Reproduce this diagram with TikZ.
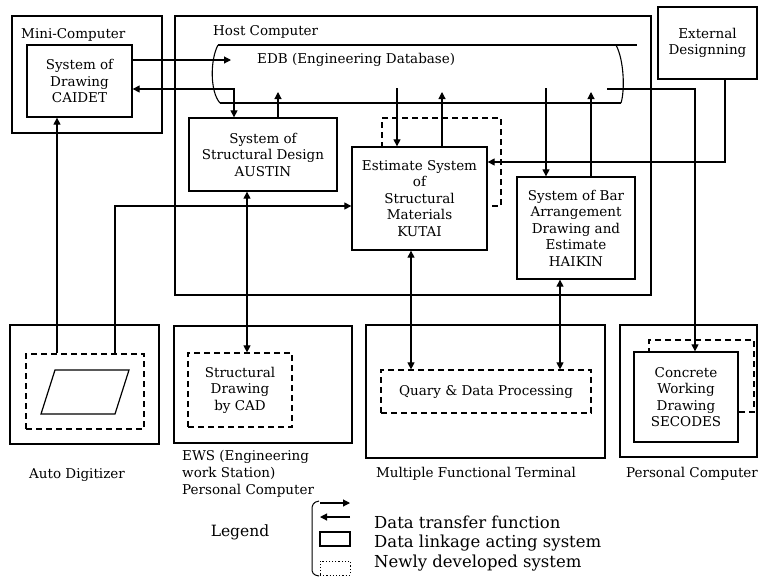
\documentclass[tikz,border=0pt]{standalone}
\usepackage{fontspec}
\setmainfont{DejaVu Serif}
\usetikzlibrary{arrows.meta}
\begin{document}
\begin{tikzpicture}[x=1pt,y=-1pt,
  >={Triangle[length=7pt,width=7pt]},
  every node/.style={font=\fontsize{13.5}{16.5}\selectfont},
  box/.style={draw, line width=1.3pt, fill=white, inner sep=0pt, align=center},
  dbox/.style={draw, line width=1.2pt, dash pattern=on 6pt off 4pt, inner sep=0pt, align=center},
  conn/.style={line width=1.1pt},
  lbl/.style={inner sep=0pt},
  legtxt/.style={inner sep=0pt, anchor=west, font=\fontsize{16.5}{18}\selectfont}]
\useasboundingbox (0,0) rectangle (759,576);

% outer boxes
\node[box, minimum width=150pt, minimum height=117pt] (mini) at (87,74.5) {};
\node[lbl, anchor=west] (minilbl) at (21,35) {Mini-Computer};
\node[box, minimum width=105pt, minimum height=72pt] (caidet) at (79.5,81) {System of\\Drawing\\CAIDET};

\node[box, minimum width=476pt, minimum height=279pt] (host) at (413,155.5) {};
\node[lbl, anchor=west] (hostlbl) at (213,32) {Host Computer};

\node[box, minimum width=99pt, minimum height=72pt] (ext) at (707.5,43) {External\\Designning};

% EDB
\node[inner sep=0pt, minimum width=403pt, minimum height=58pt] (edb) at (419.5,74) {};
\draw[conn] (218,45) -- (637,45);
\draw[conn] (220,103) -- (621,103);
\draw[conn] (218,45) .. controls (210,60) and (210,92) .. (220,103);
\draw[conn] (616,45) .. controls (624,60) and (625,90) .. (621,103);
\node[lbl, anchor=west] (edblbl) at (257,60) {EDB (Engineering Database)};

% host inner systems
\node[box, minimum width=148pt, minimum height=73pt] (austin) at (263,154.5) {System of\\Structural Design\\AUSTIN};
\node[dbox, minimum width=119pt, minimum height=88pt] (kdash) at (441.5,162) {};
\node[box, minimum width=135pt, minimum height=103pt] (kutai) at (419.5,198.5) {Estimate System\\of\\Structural\\Materials\\KUTAI};
\node[box, minimum width=118pt, minimum height=102pt] (haikin) at (576,228) {System of Bar\\Arrangement\\Drawing and\\Estimate\\HAIKIN};

% bottom row
\node[box, minimum width=149pt, minimum height=119pt] (ad) at (84.5,384.5) {};
\node[dbox, minimum width=118pt, minimum height=75pt] (addash) at (85,391.5) {};
\draw[line width=1.2pt] (55,370) -- (129,370) -- (115,414) -- (41,414) -- cycle;
\node[lbl] (adlbl) at (77,475) {Auto Digitizer};

\node[box, minimum width=178pt, minimum height=117pt] (ews) at (263,384.5) {};
\node[dbox, minimum width=104pt, minimum height=74pt] (ewsdash) at (240,390) {Structural\\Drawing\\by CAD};
\node[lbl, anchor=north west, align=left, font=\fontsize{13.5}{16.8}\selectfont] (ewslbl) at (182,450) {EWS (Engineering\\work Station)\\Personal Computer};

\node[box, minimum width=239pt, minimum height=133pt] (mft) at (485.5,391.5) {};
\node[dbox, minimum width=210pt, minimum height=43pt] (qdp) at (486,391.5) {Quary \& Data Processing};
\node[lbl] (mftlbl) at (476,474) {Multiple Functional Terminal};

\node[box, minimum width=137pt, minimum height=132pt] (pc) at (688.5,391) {};
\node[dbox, minimum width=105pt, minimum height=72pt] (secdash) at (701.5,376) {};
\node[box, minimum width=104pt, minimum height=90pt] (secodes) at (686,397) {Concrete\\Working\\Drawing\\SECODES};
\node[lbl] (pclbl) at (692,474) {Personal Computer};

% EDB ports
\coordinate (edbin1) at (231,60);
\coordinate (edbp1) at (278,92);
\coordinate (edbp2) at (397,88);
\coordinate (edbp3) at (442,92);
\coordinate (edbp4) at (546,88);
\coordinate (edbp5) at (591,92);
\coordinate (edbp6) at (607,89);

% connectors
\draw[conn,->] (caidet.east |- 0,60) -- (edbin1);
\draw[conn,<->] (caidet.east |- 0,89) -- (234,89) -- (austin.north -| 234,0);
\draw[conn,->] (austin.north -| edbp1) -- (edbp1);
\draw[conn,->] (edbp2) -- (kutai.north -| edbp2);
\draw[conn,->] (kutai.north -| edbp3) -- (edbp3);
\draw[conn,->] (edbp4) -- (haikin.north -| edbp4);
\draw[conn,->] (haikin.north -| edbp5) -- (edbp5);
\draw[conn,->] (edbp6) -- (695,89) -- (secodes.north -| 695,0);
\draw[conn,->] (ext.south -| 725,0) -- (725,162) -- (kutai.east |- 0,162);
\draw[conn,->] (addash.north -| 57,0) -- (caidet.south -| 57,0);
\draw[conn,->] (addash.north -| 115,0) -- (115,206) -- (kutai.west |- 0,206);
\draw[conn,<->] (austin.south -| 247,0) -- (ewsdash.north -| 247,0);
\draw[conn,<->] (kutai.south -| 411,0) -- (qdp.north -| 411,0);
\draw[conn,<->] (haikin.south -| 560,0) -- (qdp.north -| 560,0);

% legend
\node[lbl, font=\fontsize{15.5}{18}\selectfont] (leg) at (240,532) {Legend};
\draw[line width=1pt] (319,501) .. controls (313,502) and (312,505) .. (312,510) -- (312,568) .. controls (312,573) and (313,575) .. (319,576);
\coordinate (la1) at (320,503);
\coordinate (la2) at (350,503);
\coordinate (lb1) at (350,517);
\coordinate (lb2) at (320,517);
\draw[conn,->] (la1) -- (la2);
\draw[conn,->] (lb1) -- (lb2);
\node[draw, line width=1.1pt, minimum width=30pt, minimum height=14pt, inner sep=0pt] (legbox) at (335,539) {};
\node[draw, line width=0.9pt, dash pattern=on 1.2pt off 2pt, minimum width=30pt, minimum height=14pt, inner sep=0pt] (legdot) at (335,568) {};
\node[legtxt] (lt1) at (374,522) {Data transfer function};
\node[legtxt] (lt2) at (374,543) {Data linkage acting system};
\node[legtxt] (lt3) at (374,563) {Newly developed system};
\end{tikzpicture}
\end{document}
